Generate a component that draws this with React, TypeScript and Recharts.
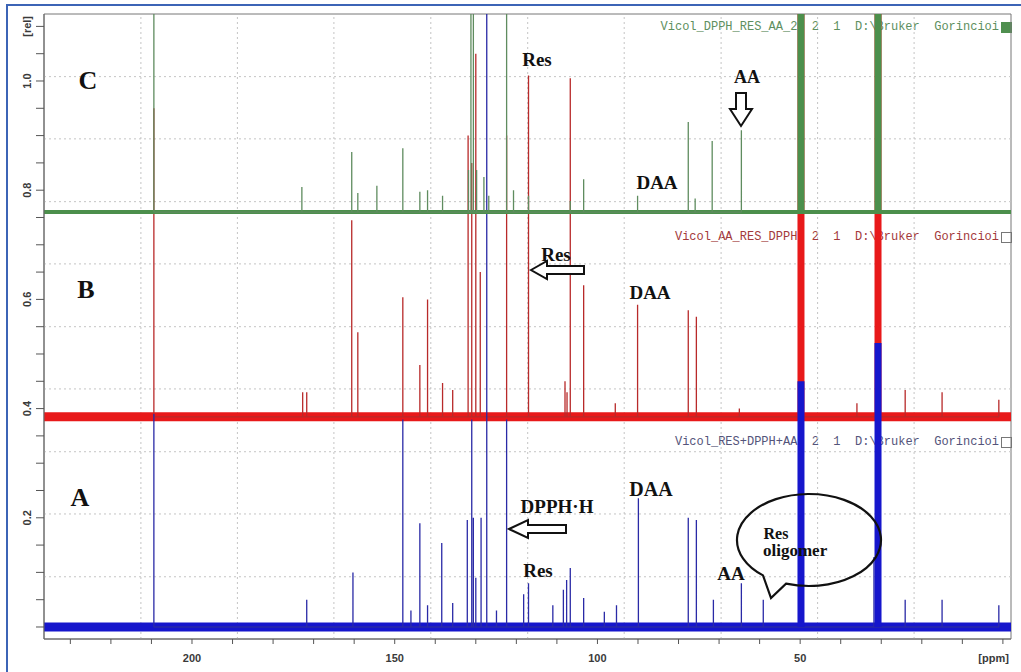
import { ComposedChart, Line, XAxis, YAxis, ReferenceLine, ReferenceArea } from "recharts";

type Peak = [number, number];

// baselines of the three stacked spectra (rel)
const GREEN_BASE = 0.76;
const RED_BASE = 0.385;
const BLUE_BASE = 0;

// [ppm, top of peak in rel units]
const greenPeaks: Peak[] = [
    [209.4, 1.3], [172.9, 0.806], [160.6, 0.87], [159.1, 0.795], [154.4, 0.808],
    [148.0, 0.877], [143.8, 0.797], [141.9, 0.8], [138.2, 0.79], [131.8, 0.837],
    [131.2, 1.3], [130.6, 1.3], [129.8, 0.837], [128.0, 0.824], [126.8, 0.79],
    [122.4, 1.3], [120.7, 0.8], [117.0, 0.79], [106.7, 0.78], [103.4, 0.82],
    [90.1, 0.79], [77.6, 0.925], [75.9, 0.785], [71.7, 0.89], [64.5, 0.91],
];
const greenSolvent: Peak[] = [[49.8, 1.3], [30.8, 1.3]];

const redPeaks: Peak[] = [
    [209.4, 0.95], [172.7, 0.43], [171.7, 0.43], [160.6, 0.745], [159.1, 0.54],
    [148.0, 0.604], [143.8, 0.48], [141.9, 0.6], [138.2, 0.447], [135.7, 0.434],
    [131.9, 0.9], [131.0, 0.85], [130.0, 1.05], [128.9, 0.65], [122.4, 0.9],
    [117.0, 1.01], [108.0, 0.45], [107.5, 0.43], [106.7, 1.005], [103.4, 0.626],
    [95.6, 0.41], [90.1, 0.59], [77.6, 0.58], [75.6, 0.568], [65.0, 0.4],
    [36.0, 0.41], [24.1, 0.434], [15.0, 0.43], [1.0, 0.416],
];
const redSolvent: Peak[] = [[49.8, 1.3], [30.8, 1.3]];

const bluePeaks: Peak[] = [
    [209.4, 0.39], [171.7, 0.05], [160.3, 0.1], [148.0, 0.38], [146.0, 0.03],
    [143.8, 0.19], [141.9, 0.04], [138.4, 0.154], [135.7, 0.044], [132.1, 0.196],
    [131.0, 0.38], [130.6, 0.2], [130.0, 0.09], [128.7, 0.2], [127.3, 1.3],
    [124.9, 0.03], [122.4, 0.38], [118.2, 0.06], [117.0, 0.08], [111.0, 0.04],
    [108.4, 0.068], [107.6, 0.086], [106.7, 0.108], [103.4, 0.053], [98.3, 0.028],
    [95.3, 0.04], [89.9, 0.236], [77.6, 0.2], [75.6, 0.196], [71.4, 0.05],
    [64.5, 0.08], [59.1, 0.05], [31.8, 0.128], [24.1, 0.05], [15.0, 0.05], [1.0, 0.04],
];
const blueSolvent: Peak[] = [[49.8, 0.45], [30.8, 0.52]];

const PPM_DOMAIN: [number, number] = [-2, 236.5];
const REL_DOMAIN: [number, number] = [-0.022, 1.1227];

const PPM_TICKS = [0, 10, 20, 30, 40, 50, 60, 70, 80, 90, 100, 110, 120, 130, 140, 150, 160, 170, 180, 190, 200, 210, 220, 230];
const PPM_LABELS = [200, 150, 100, 50];
const REL_TICKS = [0, 0.05, 0.1, 0.15, 0.2, 0.25, 0.3, 0.35, 0.4, 0.45, 0.5, 0.55, 0.6, 0.65, 0.7, 0.75, 0.8, 0.85, 0.9, 0.95, 1.0, 1.05, 1.1];
const REL_LABELS = [0.2, 0.4, 0.6, 0.8, 1.0];

const GRID_PPM = [212.6, 188.8, 165.0, 141.1, 117.2, 93.4, 69.5, 45.7, 21.9];
const GRID_REL = [0.092, 0.207, 0.321, 0.436, 0.55, 0.665, 0.779, 0.894, 1.008];

const HEADERS = [
    { text: "Vicol_DPPH_RES_AA_2  2  1  D:\\Bruker  Gorincioi", color: "#5e8f5e", top: 20, box: "#4f8f4f", filled: true },
    { text: "Vicol_AA_RES_DPPH  2  1  D:\\Bruker  Gorincioi", color: "#a3393a", top: 230, box: "#777", filled: false },
    { text: "Vicol_RES+DPPH+AA  2  1  D:\\Bruker  Gorincioi", color: "#54547a", top: 435, box: "#777", filled: false },
];

// each peak becomes a vertical stroke up from the baseline; `split` breaks the path between peaks
function spikes(base: number, peaks: Peak[], split = false) {
    const sorted = [...peaks].sort((a, b) => b[0] - a[0]);
    const pts: { x: number; y: number | null }[] = [];
    for (const [ppm, top] of sorted) {
        pts.push({ x: ppm, y: base }, { x: ppm, y: top }, { x: ppm, y: base });
        if (split) pts.push({ x: ppm, y: null });
    }
    return pts;
}

function flat(base: number) {
    return [{ x: PPM_DOMAIN[1], y: base }, { x: PPM_DOMAIN[0], y: base }];
}

const tickFont = { fontFamily: "'Liberation Sans', Arial, sans-serif", fontSize: 11, fontWeight: 700, fill: "#3a3a3a" };

function renderYTick(props: any) {
    const { x, y, payload } = props;
    const v = Math.round(payload.value * 100) / 100;
    let label = "";
    if (v === 1.1) label = "[rel]";
    else if (REL_LABELS.some((l) => Math.abs(l - v) < 1e-6)) label = v.toFixed(1);
    if (!label) return <g />;
    const cx = x - 7;
    return (
        <text x={cx} y={y} transform={`rotate(-90, ${cx}, ${y})`} textAnchor="middle" dominantBaseline="central" {...tickFont}>
            {label}
        </text>
    );
}

function renderXTick(props: any) {
    const { x, y, payload } = props;
    const v = payload.value;
    if (v === 0) {
        return (
            <text x={x + 6} y={y + 16} textAnchor="end" {...tickFont}>
                [ppm]
            </text>
        );
    }
    if (!PPM_LABELS.includes(v)) return <g />;
    return (
        <text x={x} y={y + 16} textAnchor="middle" {...tickFont}>
            {v}
        </text>
    );
}

function Spectrum({ base, peaks, solvent, band, bandWidth, thin }: any) {
    return [
        <Line key="band" data={flat(base)} dataKey="y" stroke={band} strokeWidth={bandWidth} dot={false} activeDot={false} isAnimationActive={false} />,
        <Line key="peaks" data={spikes(base, peaks)} dataKey="y" stroke={thin} strokeWidth={1.3} dot={false} activeDot={false} isAnimationActive={false} strokeLinejoin="bevel" />,
        <Line key="solv" data={spikes(base, solvent, true)} dataKey="y" stroke={band} strokeWidth={7} dot={false} activeDot={false} isAnimationActive={false} connectNulls={false} strokeLinejoin="bevel" />,
    ];
}

const serif = { fontFamily: "'Liberation Serif', 'Times New Roman', serif", fontWeight: 700, fill: "#111" };

export default function App() {
    const red = Spectrum({ base: RED_BASE, peaks: redPeaks, solvent: redSolvent, band: "#e8191a", bandWidth: 9, thin: "#b82a2a" });
    const blue = Spectrum({ base: BLUE_BASE, peaks: bluePeaks, solvent: blueSolvent, band: "#1616cc", bandWidth: 9, thin: "#2a2aa6" });
    const green = Spectrum({ base: GREEN_BASE, peaks: greenPeaks, solvent: greenSolvent, band: "#4c8f4c", bandWidth: 4, thin: "#5f8c5f" });

    return (
        <div style={{ position: "relative", width: 1021, height: 672, background: "#fff", overflow: "hidden" }}>
            <style>{"body{margin:0}"}</style>

            {HEADERS.map((h) => (
                <div key={h.text}>
                    <div
                        style={{
                            position: "absolute",
                            right: 22,
                            top: h.top,
                            fontFamily: "'Liberation Mono', 'Courier New', monospace",
                            fontSize: 12,
                            lineHeight: "14px",
                            whiteSpace: "pre",
                            color: h.color,
                        }}
                    >
                        {h.text}
                    </div>
                    <div
                        style={{
                            position: "absolute",
                            left: 1001,
                            top: h.top + 2,
                            width: 9,
                            height: 9,
                            border: `1px solid ${h.box}`,
                            background: h.filled ? h.box : "transparent",
                        }}
                    />
                </div>
            ))}

            <div style={{ position: "absolute", left: 0, top: 0 }}>
                <ComposedChart width={1021} height={672} margin={{ top: 14, right: 10, bottom: 0, left: 0 }}>
                    <XAxis
                        type="number"
                        dataKey="x"
                        domain={PPM_DOMAIN}
                        reversed
                        allowDataOverflow
                        ticks={PPM_TICKS}
                        interval={0}
                        tick={renderXTick}
                        tickSize={5}
                        tickLine={{ stroke: "#555" }}
                        axisLine={{ stroke: "#666" }}
                        height={33}
                    />
                    <YAxis
                        type="number"
                        domain={REL_DOMAIN}
                        allowDataOverflow
                        ticks={REL_TICKS}
                        interval={0}
                        tick={renderYTick}
                        tickSize={8}
                        tickLine={{ stroke: "#555" }}
                        axisLine={{ stroke: "#666" }}
                        width={44}
                    />
                    {GRID_REL.map((v) => (
                        <ReferenceLine key={`h${v}`} y={v} stroke="#c4c4c4" strokeDasharray="2 3" />
                    ))}
                    {GRID_PPM.map((v) => (
                        <ReferenceLine key={`v${v}`} x={v} stroke="#c4c4c4" strokeDasharray="2 3" />
                    ))}
                    {red}
                    {blue}
                    {green}
                    <ReferenceArea x1={PPM_DOMAIN[1]} x2={PPM_DOMAIN[0]} y1={REL_DOMAIN[0]} y2={REL_DOMAIN[1]} fill="none" stroke="#777" ifOverflow="visible" />
                </ComposedChart>
            </div>

            <svg width={1021} height={672} style={{ position: "absolute", left: 0, top: 0, pointerEvents: "none" }}>
                {/* outer frame of the figure */}
                <path d="M7,700 V5 H1021" fill="none" stroke="#3c64b6" strokeWidth={2} />

                <text x={88} y={89} textAnchor="middle" fontSize={26} {...serif}>C</text>
                <text x={86} y={298} textAnchor="middle" fontSize={26} {...serif}>B</text>
                <text x={80} y={506} textAnchor="middle" fontSize={26} {...serif}>A</text>

                <text x={537} y={66} textAnchor="middle" fontSize={19} {...serif}>Res</text>
                <text x={747} y={83} textAnchor="middle" fontSize={18} {...serif}>AA</text>
                <path d="M736,93 H746 V109 H752 L741,126 L730,109 H736 Z" fill="#fff" stroke="#111" strokeWidth={2} />
                <text x={657} y={189} textAnchor="middle" fontSize={19} {...serif}>DAA</text>

                <text x={556} y={261} textAnchor="middle" fontSize={19} {...serif}>Res</text>
                <path d="M531,270 L547,261 V266 H584 V274 H547 V279 Z" fill="#fff" stroke="#111" strokeWidth={2} />
                <text x={650} y={299} textAnchor="middle" fontSize={19} {...serif}>DAA</text>

                <text x={651} y={496} textAnchor="middle" fontSize={20} {...serif}>DAA</text>
                <text x={557} y={513} textAnchor="middle" fontSize={19} {...serif}>DPPH·H</text>
                <path d="M509,529 L528,520 V525 H566 V533 H528 V538 Z" fill="#fff" stroke="#111" strokeWidth={2} />
                <text x={538} y={577} textAnchor="middle" fontSize={19} {...serif}>Res</text>
                <text x={731} y={580} textAnchor="middle" fontSize={19} {...serif}>AA</text>

                <path d="M786,583.6 A72,46 0 1,0 763,575.4 L771,598 Z" fill="none" stroke="#111" strokeWidth={2.2} />
                <text x={776} y={539} textAnchor="middle" fontSize={16} {...serif}>Res</text>
                <text x={763} y={556} textAnchor="start" fontSize={17} {...serif}>oligomer</text>
            </svg>
        </div>
    );
}
